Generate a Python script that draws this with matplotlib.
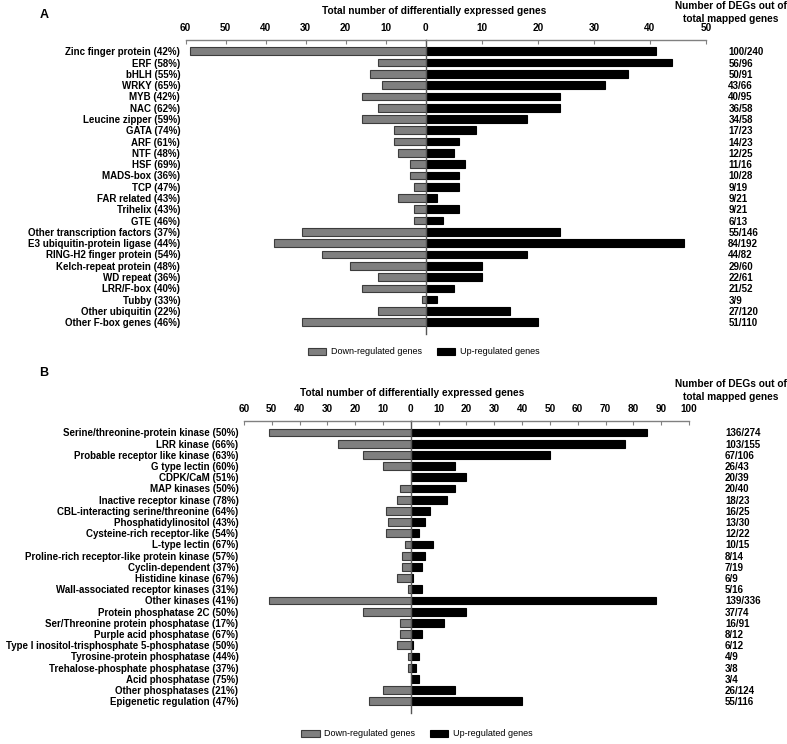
import matplotlib
matplotlib.use('Agg')
import matplotlib.pyplot as plt
from matplotlib.patches import Patch

plt.rcParams['font.family'] = ['Liberation Sans', 'DejaVu Sans']
NARROW = ['Liberation Sans Narrow', 'Liberation Sans', 'DejaVu Sans']

# Panel A data
a_labels = ["Zinc finger protein (42%)", "ERF (58%)", "bHLH (55%)", "WRKY (65%)", "MYB (42%)",
            "NAC (62%)", "Leucine zipper (59%)", "GATA (74%)", "ARF (61%)", "NTF (48%)",
            "HSF (69%)", "MADS-box (36%)", "TCP (47%)", "FAR related (43%)", "Trihelix (43%)",
            "GTE (46%)", "Other transcription factors (37%)", "E3 ubiquitin-protein ligase (44%)",
            "RING-H2 finger protein (54%)", "Kelch-repeat protein (48%)", "WD repeat (36%)",
            "LRR/F-box (40%)", "Tubby (33%)", "Other ubiquitin (22%)", "Other F-box genes (46%)"]
a_down = [59, 12, 14, 11, 16, 12, 16, 8, 8, 7, 4, 4, 3, 7, 3, 3, 31, 38, 26, 19, 12, 16, 1, 12, 31]
a_up = [41, 44, 36, 32, 24, 24, 18, 9, 6, 5, 7, 6, 6, 2, 6, 3, 24, 46, 18, 10, 10, 5, 2, 15, 20]
a_ratio = ["100/240", "56/96", "50/91", "43/66", "40/95", "36/58", "34/58", "17/23", "14/23",
           "12/25", "11/16", "10/28", "9/19", "9/21", "9/21", "6/13", "55/146", "84/192",
           "44/82", "29/60", "22/61", "21/52", "3/9", "27/120", "51/110"]

# Panel B data
b_labels = ["Serine/threonine-protein kinase (50%)", "LRR kinase (66%)",
            "Probable receptor like kinase (63%)", "G type lectin (60%)", "CDPK/CaM (51%)",
            "MAP kinases (50%)", "Inactive receptor kinase (78%)",
            "CBL-interacting serine/threonine (64%)", "Phosphatidylinositol (43%)",
            "Cysteine-rich receptor-like (54%)", "L-type lectin (67%)",
            "Proline-rich receptor-like protein kinase (57%)", "Cyclin-dependent (37%)",
            "Histidine kinase (67%)", "Wall-associated receptor kinases (31%)", "Other kinases (41%)",
            "Protein phosphatase 2C (50%)", "Ser/Threonine protein phosphatase (17%)",
            "Purple acid phosphatase (67%)", "Type I inositol-trisphosphate 5-phosphatase (50%)",
            "Tyrosine-protein phosphatase (44%)", "Trehalose-phosphate phosphatase (37%)",
            "Acid phosphatase (75%)", "Other phosphatases (21%)", "Epigenetic regulation (47%)"]
b_down = [51, 26, 17, 10, 0, 4, 5, 9, 8, 9, 2, 3, 3, 5, 1, 51, 17, 4, 4, 5, 1, 1, 0, 10, 15]
b_up = [85, 77, 50, 16, 20, 16, 13, 7, 5, 3, 8, 5, 4, 1, 4, 88, 20, 12, 4, 1, 3, 2, 3, 16, 40]
b_ratio = ["136/274", "103/155", "67/106", "26/43", "20/39", "20/40", "18/23", "16/25", "13/30",
           "12/22", "10/15", "8/14", "7/19", "6/9", "5/16", "139/336", "37/74", "16/91", "8/12",
           "6/12", "4/9", "3/8", "3/4", "26/124", "55/116"]

W, H = 787, 744
fig = plt.figure(figsize=(7.87, 7.44), dpi=100)


def fx(px):
    return px / W


def fy(py):
    return 1 - py / H


def panel(x0, xz, x1, top, bottom, lmax, rmax, labels, down, up, ratios, rpad):
    h = (bottom - top) / H
    ax_l = fig.add_axes([fx(x0), fy(bottom), fx(xz - x0), h])
    ax_r = fig.add_axes([fx(xz), fy(bottom), fx(x1 - xz), h])
    y = list(range(len(labels)))
    ax_l.barh(y, down, height=0.68, color='#7f7f7f', edgecolor='#3c3c3c', linewidth=0.8)
    ax_r.barh(y, up, height=0.68, color='black', edgecolor='black', linewidth=0.8)
    ax_l.set_xlim(lmax, 0)
    ax_r.set_xlim(0, rmax)
    ax_l.set_xticks(list(range(0, lmax + 1, 10)))
    ax_r.set_xticks(list(range(10, rmax + 1, 10)))
    for ax in (ax_l, ax_r):
        ax.set_ylim(len(labels), -1)
        ax.xaxis.tick_top()
        ax.tick_params(axis='x', direction='in', length=3, width=0.8, color='#808080', pad=5)
        ax.spines['bottom'].set_visible(False)
        ax.spines['right'].set_visible(False)
        ax.spines['top'].set_color('#808080')
        ax.spines['top'].set_linewidth(1.0)
        for t in ax.get_xticklabels():
            t.set_family(NARROW)
            t.set_fontweight('bold')
            t.set_fontsize(7.2)
    ax_l.spines['left'].set_visible(False)
    ax_r.spines['left'].set_color('#555555')
    ax_r.spines['left'].set_linewidth(1.0)
    ax_l.set_yticks(y)
    ax_l.set_yticklabels(labels, fontsize=7, fontweight='bold')
    ax_l.tick_params(axis='y', length=0, pad=4)
    ax_r.yaxis.tick_right()
    ax_r.set_yticks(y)
    ax_r.set_yticklabels(ratios, fontsize=7, fontweight='bold')
    ax_r.tick_params(axis='y', length=0, pad=rpad)
    return ax_l, ax_r


panel(185.7, 425.7, 706, 40, 333.5, 60, 50, a_labels, a_down, a_up, a_ratio, 16)
panel(244, 410.7, 689, 421.3, 712.5, 60, 100, b_labels, b_down, b_up, b_ratio, 26)

# headers
title = 'Total number of differentially expressed genes'
fig.text(fx(434.5), fy(10.7), title, ha='center', va='center', fontsize=7.3,
         fontweight='bold', family=NARROW)
fig.text(fx(412), fy(393), title, ha='center', va='center', fontsize=7.3,
         fontweight='bold', family=NARROW)
for yy in (6, 384):
    fig.text(fx(730.5), fy(yy), 'Number of DEGs out of', ha='center', va='center',
             fontsize=7.3, fontweight='bold', family=NARROW)
    fig.text(fx(730.5), fy(yy + 12.5), 'total mapped genes', ha='center', va='center',
             fontsize=7.3, fontweight='bold', family=NARROW)
fig.text(fx(44), fy(15), 'A', ha='center', va='center', fontsize=9, fontweight='bold')
fig.text(fx(44), fy(373), 'B', ha='center', va='center', fontsize=9, fontweight='bold')

handles = [Patch(facecolor='#7f7f7f', edgecolor='#3c3c3c', linewidth=0.8),
           Patch(facecolor='black', edgecolor='black', linewidth=0.8)]
names = ['Down-regulated genes', 'Up-regulated genes']
for cx, cy in ((424, 351.7), (417, 734)):
    fig.legend(handles, names, ncol=2, loc='center', bbox_to_anchor=(fx(cx), fy(cy)),
               frameon=False, handlelength=2.0, handleheight=0.8, handletextpad=0.5,
               columnspacing=1.7, prop={'family': NARROW, 'size': 6.5})

fig.savefig('out.png', dpi=100)
